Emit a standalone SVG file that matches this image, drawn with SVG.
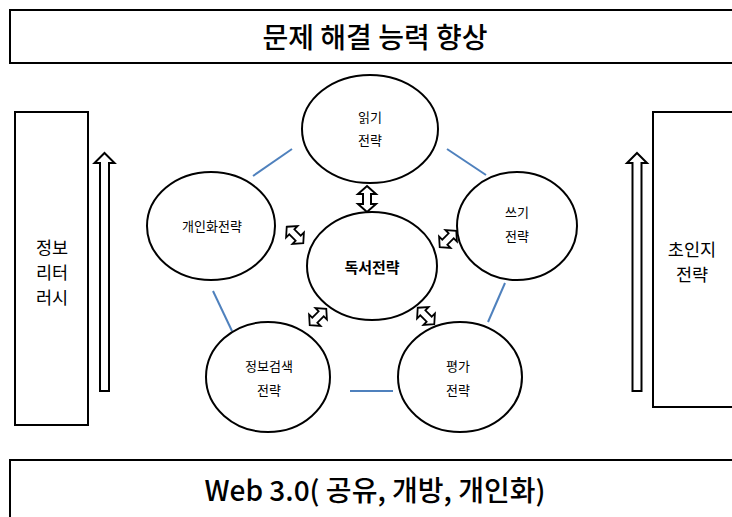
<svg xmlns="http://www.w3.org/2000/svg" width="732" height="517" viewBox="0 0 732 517">
<style>
.box{fill:#fff;stroke:#000;stroke-width:2}
.ell{fill:#fff;stroke:#000;stroke-width:2}
.link{stroke:#4F81BD;stroke-width:2;fill:none}
.blk{fill:#fff;stroke:#000;stroke-width:2;stroke-linejoin:miter}
.t{font-family:"Noto Sans CJK KR","Malgun Gothic",sans-serif;fill:#000;text-anchor:middle}
.title{font-size:28px;font-weight:500}
.side{font-size:17.5px}
.lbl{font-size:13px}
.core{font-size:15px;font-weight:bold}
</style>
<defs>
<path id="dbl" d="M0,-13 L9,-5 L4,-5 L4,5 L9,5 L0,13 L-9,5 L-4,5 L-4,-5 L-9,-5 Z"/>
<path id="up" d="M0,0 L10,10 L4.5,10 L4.5,238 L-4.5,238 L-4.5,10 L-10,10 Z"/>
</defs>
<rect width="732" height="517" fill="#fff"/>

<g id="top-box">
<rect class="box" x="10" y="10" width="730" height="53"/>
<text class="t title" x="375" y="48">문제 해결 능력 향상</text>
</g>

<g id="bottom-box">
<rect class="box" x="10" y="460" width="730" height="70"/>
<text class="t title" x="375" y="501">Web 3.0( 공유, 개방, 개인화)</text>
</g>

<g id="left-box">
<rect class="box" x="15" y="112" width="73" height="313"/>
<text class="t side" x="52" y="254">정보</text>
<text class="t side" x="52" y="279">리터</text>
<text class="t side" x="52" y="304">러시</text>
</g>

<g id="right-box">
<rect class="box" x="653" y="112" width="90" height="295"/>
<text class="t side" x="692" y="256">초인지</text>
<text class="t side" x="692" y="281">전략</text>
</g>

<g id="connectors">
<line class="link" x1="253" y1="176" x2="292" y2="149"/>
<line class="link" x1="447" y1="149" x2="486" y2="175"/>
<line class="link" x1="505" y1="283" x2="488" y2="322"/>
<line class="link" x1="350" y1="391" x2="393" y2="391"/>
<line class="link" x1="213" y1="291" x2="232" y2="331"/>
<use href="#up" class="blk" transform="translate(104.5,153)"/>
<use href="#up" class="blk" transform="translate(637,153)"/>
<use href="#dbl" class="blk" transform="translate(367,199)"/>
<use href="#dbl" class="blk" transform="translate(295,235) rotate(-45) scale(0.9)"/>
<use href="#dbl" class="blk" transform="translate(448,239) rotate(45) scale(0.9)"/>
<use href="#dbl" class="blk" transform="translate(318,317) rotate(45) scale(0.9)"/>
<use href="#dbl" class="blk" transform="translate(426,316) rotate(-45) scale(0.9)"/>
</g>

<g id="reading">
<ellipse class="ell" cx="370" cy="129" rx="68" ry="54"/>
<text class="t lbl" x="370" y="122">읽기</text>
<text class="t lbl" x="370" y="145">전략</text>
</g>

<g id="writing">
<ellipse class="ell" cx="517" cy="226" rx="60" ry="54"/>
<text class="t lbl" x="517" y="217">쓰기</text>
<text class="t lbl" x="517" y="241">전략</text>
</g>

<g id="personal">
<ellipse class="ell" cx="211" cy="226" rx="64" ry="54"/>
<text class="t lbl" x="212" y="231">개인화전략</text>
</g>

<g id="core">
<ellipse class="ell" cx="372" cy="266" rx="65" ry="54"/>
<text class="t core" x="372" y="273">독서전략</text>
</g>

<g id="search">
<ellipse class="ell" cx="268" cy="377" rx="62" ry="55"/>
<text class="t lbl" x="269" y="371">정보검색</text>
<text class="t lbl" x="269" y="395">전략</text>
</g>

<g id="evaluation">
<ellipse class="ell" cx="460" cy="377" rx="62" ry="55"/>
<text class="t lbl" x="458" y="371">평가</text>
<text class="t lbl" x="458" y="395">전략</text>
</g>
</svg>
